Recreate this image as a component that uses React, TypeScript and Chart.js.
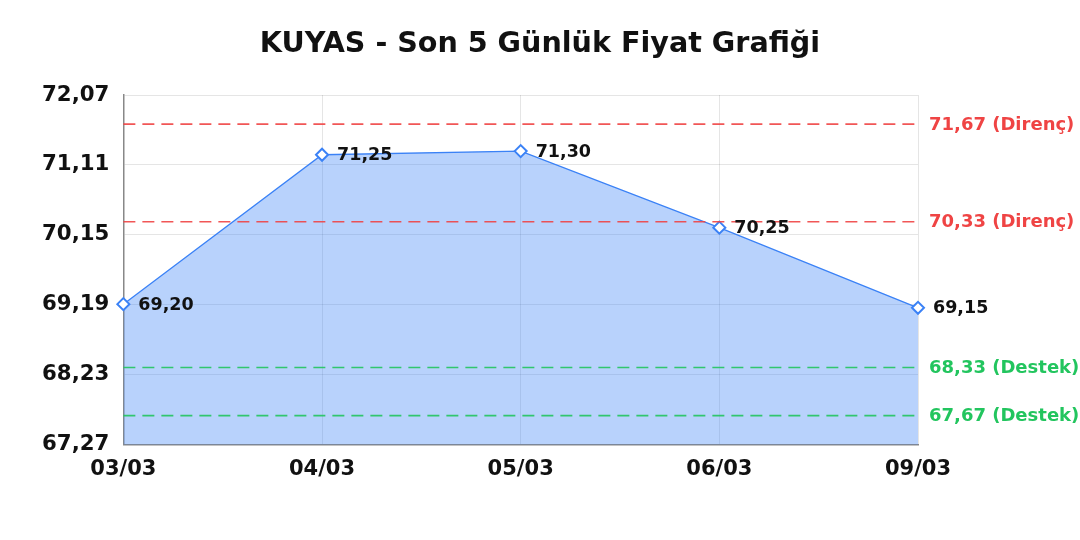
import { useEffect, useRef } from 'react'
import Chart from 'chart.js/auto'

const DAYS = ['03/03', '04/03', '05/03', '06/03', '09/03']
const PRICES = [69.2, 71.25, 71.3, 70.25, 69.15]
const RESISTANCE = [71.67, 70.33]
const SUPPORT = [68.33, 67.67]
const Y_TICKS = [67.27, 68.23, 69.19, 70.15, 71.11, 72.07]
const TITLE = 'KUYAS - Son 5 Günlük Fiyat Grafiği'

const FONT = '"DejaVu Sans", sans-serif'
const BLUE = '#3b82f6'
const RED = '#ef4444'
const GREEN = '#22c55e'

const fmt = (v: number) => v.toFixed(2).replace('.', ',')

// title centred on the whole canvas, dashed support / resistance lines, point labels
const overlayPlugin = {
  id: 'overlay',
  afterDatasetsDraw(chart: Chart) {
    const { ctx, chartArea, scales } = chart
    const y = scales.y
    ctx.save()
    ctx.fillStyle = '#111'
    ctx.font = `bold 28.6px ${FONT}`
    ctx.textAlign = 'center'
    ctx.textBaseline = 'middle'
    ctx.fillText(TITLE, chart.width / 2, 45)

    const levels = [
      ...RESISTANCE.map(v => ({ v, color: RED, text: `${fmt(v)} (Direnç)` })),
      ...SUPPORT.map(v => ({ v, color: GREEN, text: `${fmt(v)} (Destek)` })),
    ]
    levels.forEach(l => {
      const py = y.getPixelForValue(l.v)
      ctx.strokeStyle = l.color
      ctx.globalAlpha = 0.9
      ctx.lineWidth = 1.6
      ctx.setLineDash([12, 7])
      ctx.beginPath()
      ctx.moveTo(chartArea.left, py)
      ctx.lineTo(chartArea.right, py)
      ctx.stroke()
      ctx.globalAlpha = 1
      ctx.setLineDash([])
      ctx.fillStyle = l.color
      ctx.font = `bold 18px ${FONT}`
      ctx.textAlign = 'left'
      ctx.textBaseline = 'middle'
      ctx.fillText(l.text, chartArea.right + 11, py + 1)
    })
    const meta = chart.getDatasetMeta(0)
    ctx.fillStyle = '#111'
    ctx.font = `bold 17.5px ${FONT}`
    ctx.textAlign = 'left'
    ctx.textBaseline = 'middle'
    meta.data.forEach((pt, i) => {
      ctx.fillText(fmt(PRICES[i]), pt.x + 15, pt.y + 1)
    })
    ctx.restore()
  },
}

function PriceChart() {
  const ref = useRef<HTMLCanvasElement>(null)
  useEffect(() => {
    if (!ref.current) return
    const chart = new Chart(ref.current, {
      type: 'line',
      data: {
        labels: DAYS,
        datasets: [{
          data: PRICES,
          borderColor: BLUE,
          borderWidth: 1.3,
          backgroundColor: 'rgba(59,130,246,0.36)',
          fill: 'start',
          tension: 0,
          pointStyle: 'rectRot',
          pointRadius: 6,
          pointBorderWidth: 2,
          pointBackgroundColor: '#fff',
          pointBorderColor: BLUE,
        }],
      },
      options: {
        animation: false,
        responsive: true,
        maintainAspectRatio: false,
        layout: { padding: { left: 28, right: 162, top: 95, bottom: 46 } },
        plugins: {
          legend: { display: false },
          tooltip: { enabled: false },
          title: { display: false },
        },
        scales: {
          x: {
            offset: false,
            grid: { color: 'rgba(0,0,0,0.1)', drawTicks: false },
            border: { color: '#888', width: 1.5 },
            ticks: { color: '#111', padding: 12, font: { family: FONT, size: 21, weight: 'bold' } },
          },
          y: {
            min: Y_TICKS[0],
            max: Y_TICKS[Y_TICKS.length - 1],
            afterBuildTicks: (axis: any) => { axis.ticks = Y_TICKS.map(v => ({ value: v })) },
            grid: { color: 'rgba(0,0,0,0.1)', drawTicks: false },
            border: { color: '#888', width: 1.5 },
            ticks: {
              color: '#111',
              padding: 14,
              font: { family: FONT, size: 21.3, weight: 'bold' },
              callback: (v: any) => fmt(Number(v)),
            },
          },
        },
      },
      plugins: [overlayPlugin],
    })
    return () => chart.destroy()
  }, [])
  return (
    <div style={{ position: 'relative', width: 1080, height: 540, background: '#fff' }}>
      <canvas ref={ref} />
    </div>
  )
}

export default function App() {
  useEffect(() => { document.body.style.margin = '0' }, [])
  return <PriceChart />
}
